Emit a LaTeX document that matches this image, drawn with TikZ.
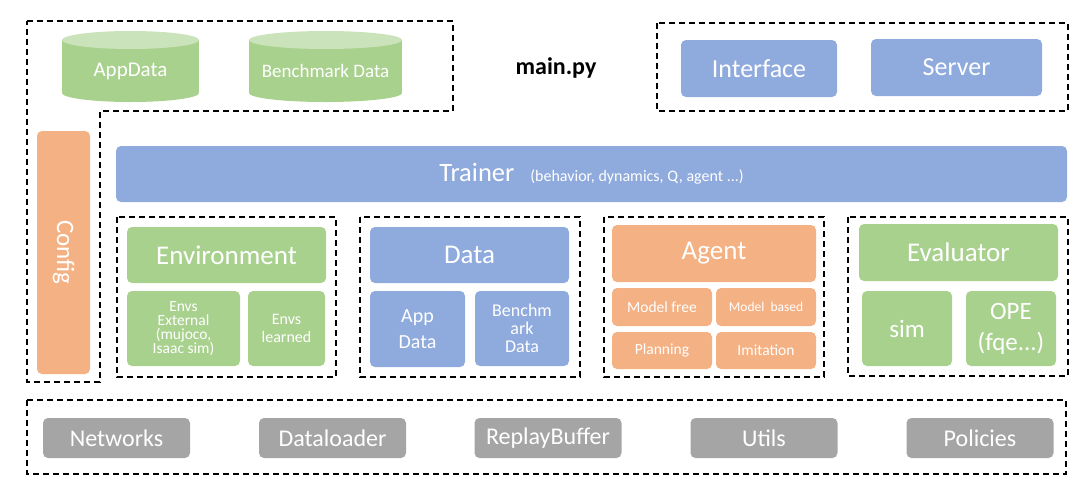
\documentclass[tikz,border=0pt]{standalone}
\usepackage{fontspec}
\setmainfont{Carlito}
\usetikzlibrary{positioning}
\definecolor{cgreen}{HTML}{A9D18E}
\definecolor{cgreentop}{HTML}{CBE3BA}
\definecolor{cblue}{HTML}{8FAADC}
\definecolor{corange}{HTML}{F4B183}
\definecolor{cgray}{HTML}{A5A5A5}
\newcommand{\fsz}[2]{\fontsize{#1}{#2}\selectfont}
\tikzset{
  blk/.style={rounded corners=5pt, inner sep=0pt, text=white, align=center},
  grn/.style={blk, fill=cgreen},
  blu/.style={blk, fill=cblue},
  org/.style={blk, fill=corange},
  gry/.style={blk, fill=cgray, minimum width=147pt, minimum height=40pt, font=\fsz{24}{28}},
  head/.style={minimum width=199pt, minimum height=56pt, font=\fsz{27}{31}},
  grp/.style={draw=black, line width=1.6pt, dash pattern=on 6pt off 4pt}
}
\begin{document}
\begin{tikzpicture}[x=1pt,y=-1pt]
    \useasboundingbox (0,0) rectangle (1089,499);

    % Dashed groups
    \draw[grp] (27,21) -- (453,21) -- (453,111) -- (100,111) -- (100,382) -- (27,382) -- cycle;
    \draw[grp] (657,23) rectangle (1068,111);
    \draw[grp] (117,217) rectangle (336,377);
    \draw[grp] (360,217) rectangle (580,377);
    \draw[grp] (604,217) rectangle (824,377);
    \draw[grp] (848,217) rectangle (1068,376);
    \draw[grp] (27,400) rectangle (1066,474);

    % Data stores
    \fill[cgreen] (62,40) rectangle (199,93);
    \fill[cgreen] (130.5,93) ellipse [x radius=68.5pt, y radius=9pt];
    \fill[cgreentop] (130.5,40) ellipse [x radius=68.5pt, y radius=9pt];
    \node[text=white, font=\fsz{21}{25}] (appdata) at (130.5,71) {AppData};

    \fill[cgreen] (249,40) rectangle (402,93);
    \fill[cgreen] (325.5,93) ellipse [x radius=76.5pt, y radius=9pt];
    \fill[cgreentop] (325.5,40) ellipse [x radius=76.5pt, y radius=9pt];
    \node[text=white, font=\fsz{19}{23}] (benchdata) at (325.5,71) {Benchmark Data};

    \node[font=\bfseries\fsz{24}{28}] (mainpy) at (556,68) {main.py};

    % Interface and server
    \node[blu, minimum width=156pt, minimum height=57pt, font=\fsz{26}{30}] (interface) at (759,68.5) {Interface};
    \node[blu, minimum width=171pt, minimum height=57pt, font=\fsz{26}{30}] (server) at (956.5,67.5) {Server};

    % Config
    \node[org, rotate=-90, minimum width=243pt, minimum height=53pt, font=\fsz{25}{30}] (config) at (63.5,252.5) {Config};

    % Trainer
    \node[blu, minimum width=951pt, minimum height=56pt, font=\fsz{26.5}{30}] (trainer) at (591.5,174)
        {Trainer\hspace{16pt}{\fsz{16}{19}(behavior, dynamics, Q, agent ...)}};

    % Environment
    \node[grn, head] (env) at (226.5,255) {Environment};
    \node[grn, minimum width=113pt, minimum height=75pt, font=\fsz{15.5}{14}] (envext) at (183.5,328.5)
        {Envs\\External\\(mujoco,\\Isaac sim)};
    \node[grn, minimum width=77pt, minimum height=75pt, font=\fsz{16}{18.5}] (envlearn) at (286.5,328.5)
        {Envs\\learned};

    % Data
    \node[blu, head] (data) at (469.5,255) {Data};
    \node[blu, minimum width=95pt, minimum height=76pt, font=\fsz{20}{26.5}] (appd) at (417.5,329) {App\\Data};
    \node[blu, minimum width=94pt, minimum height=75pt, font=\fsz{18}{18}] (benchd) at (522,328.5) {Benchm\\ark\\Data};

    % Agent
    \node[org, head, minimum width=204pt, minimum height=57pt] (agent) at (714,253.5) {Agent};
    \node[org, minimum width=100pt, minimum height=38pt, font=\fsz{15.5}{18}] (mfree) at (662,307) {Model free};
    \node[org, minimum width=100pt, minimum height=38pt, font=\fsz{13.5}{16}] (mbased) at (766,307) {Model\ \ based};
    \node[org, minimum width=100pt, minimum height=37pt, font=\fsz{15.5}{18}] (plan) at (662,350.5) {Planning};
    \node[org, minimum width=100pt, minimum height=37pt, font=\fsz{15.5}{18}] (imit) at (766,350.5) {Imitation};

    % Evaluator
    \node[grn, head, minimum height=57pt] (evaluator) at (958.5,252.5) {Evaluator};
    \node[grn, minimum width=90pt, minimum height=75pt, font=\fsz{25}{30}] (sim) at (907,328.5) {sim};
    \node[grn, minimum width=90pt, minimum height=75pt, font=\fsz{25}{31}] (ope) at (1011,328.5) {OPE\\(fqe...)};

    % Common modules
    \foreach \name/\lbl/\x in {net/Networks/116.5, loader/Dataloader/332.5, buffer/ReplayBuffer/548,
                               utils/Utils/764, policies/Policies/980} {
        \node[gry] (\name) at (\x,438) {\lbl};
    }
\end{tikzpicture}
\end{document}
